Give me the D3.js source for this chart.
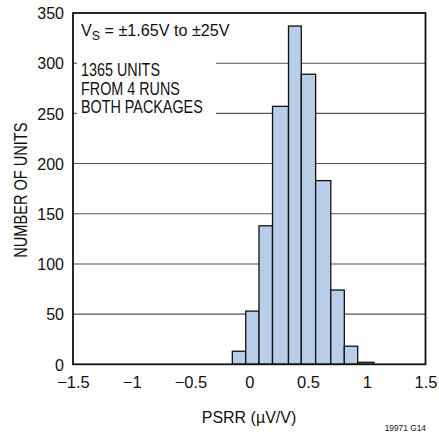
<!DOCTYPE html>
<html><head><meta charset="utf-8">
<script src="https://cdn.jsdelivr.net/npm/d3@7"></script>
<style>body{margin:0;background:#fff}svg{display:block}text{font-family:"Liberation Sans",Arial,Helvetica,sans-serif}</style>
</head><body><svg id="c" width="439" height="436"></svg>
<script>
const binEdges = [-0.144, -0.03, 0.083, 0.198, 0.334, 0.443, 0.565, 0.694, 0.809, 0.923, 1.062];
const counts = [13, 53, 138, 257, 337, 289, 183, 74, 18, 2];
const xTicks = [-1.5, -1, -0.5, 0, 0.5, 1, 1.5];
const xTickLabels = ["\u22121.5", "\u22121", "\u22120.5", "0", "0.5", "1", "1.5"];
const yTicks = [0, 50, 100, 150, 200, 250, 300, 350];
const notes = ["1365 UNITS", "FROM 4 RUNS", "BOTH PACKAGES"];

const L = 73, R = 425.5, T = 13, B = 364.3;
const svg = d3.select("#c");
const x = d3.scaleLinear().domain([-1.5, 1.5]).range([L, R]);
const y = d3.scaleLinear().domain([0, 350]).range([B, T]);

// gridlines
const gapEnd = 216;
yTicks.filter(v => v > 0 && v < 350).forEach(v => {
  const segs = (v === 300 || v === 250) ? [[L, L + 4], [gapEnd, R]] : [[L, R]];
  segs.forEach(s => svg.append("line")
    .attr("x1", s[0]).attr("x2", s[1]).attr("y1", y(v)).attr("y2", y(v))
    .attr("stroke", "#555").attr("stroke-width", 1.1));
});

// bars
const bins = counts.map((c, i) => ({x0: binEdges[i], x1: binEdges[i + 1], c}));
svg.append("g").selectAll("rect").data(bins).join("rect")
  .attr("x", d => x(d.x0)).attr("width", d => x(d.x1) - x(d.x0))
  .attr("y", d => y(d.c)).attr("height", d => y(0) - y(d.c))
  .attr("fill", "#b8cde7").attr("stroke", "#111").attr("stroke-width", 1.3);

// frame
svg.append("rect").attr("x", L).attr("y", T).attr("width", R - L).attr("height", B - T)
  .attr("fill", "none").attr("stroke", "#111").attr("stroke-width", 1.8);

// axes
const xAxis = d3.axisBottom(x).tickValues(xTicks).tickSize(0).tickPadding(0)
  .tickFormat((d, i) => xTickLabels[i]);
const gx = svg.append("g").attr("transform", `translate(0,${B})`).call(xAxis);
gx.select(".domain").remove();
gx.selectAll("text").attr("font-size", 16.5).attr("fill", "#111").attr("dy", null).attr("y", 24)
  .attr("font-family", '"Liberation Sans",Arial,sans-serif');

const yAxis = d3.axisLeft(y).tickValues(yTicks).tickSize(0).tickPadding(9);
const gy = svg.append("g").attr("transform", `translate(${L},0)`).call(yAxis);
gy.select(".domain").remove();
gy.selectAll("text").attr("font-size", 16).attr("fill", "#111").attr("dy", "0.36em")
  .attr("font-family", '"Liberation Sans",Arial,sans-serif');

// titles
svg.append("text").attr("x", 249).attr("y", 423).attr("text-anchor", "middle")
  .attr("font-size", 16).attr("fill", "#111").text("PSRR (\u00b5V/V)");
svg.append("text").attr("transform", `translate(26.7,${(T + B) / 2 + 1.5}) rotate(-90) scale(0.81,1)`)
  .attr("text-anchor", "middle").attr("font-size", 18)
  .attr("fill", "#111").text("NUMBER OF UNITS");
svg.append("text").attr("transform", "translate(426,430.5) scale(0.88,1)").attr("text-anchor", "end")
  .attr("font-size", 9.5).attr("fill", "#111").text("19971 G14");

// annotation
const vs = svg.append("text").attr("transform", "translate(81,36) scale(0.95,1)")
  .attr("font-size", 17).attr("fill", "#111");
vs.append("tspan").text("V");
vs.append("tspan").attr("font-size", 13).attr("dy", 4).text("S");
vs.append("tspan").attr("dy", -4).text(" = \u00b11.65V to \u00b125V");
svg.append("g").selectAll("text").data(notes).join("text")
  .attr("transform", (d, i) => `translate(81,${76 + i * 18.7}) scale(0.82,1)`)
  .attr("font-size", 17.5).attr("fill", "#111").text(d => d);
</script></body></html>
